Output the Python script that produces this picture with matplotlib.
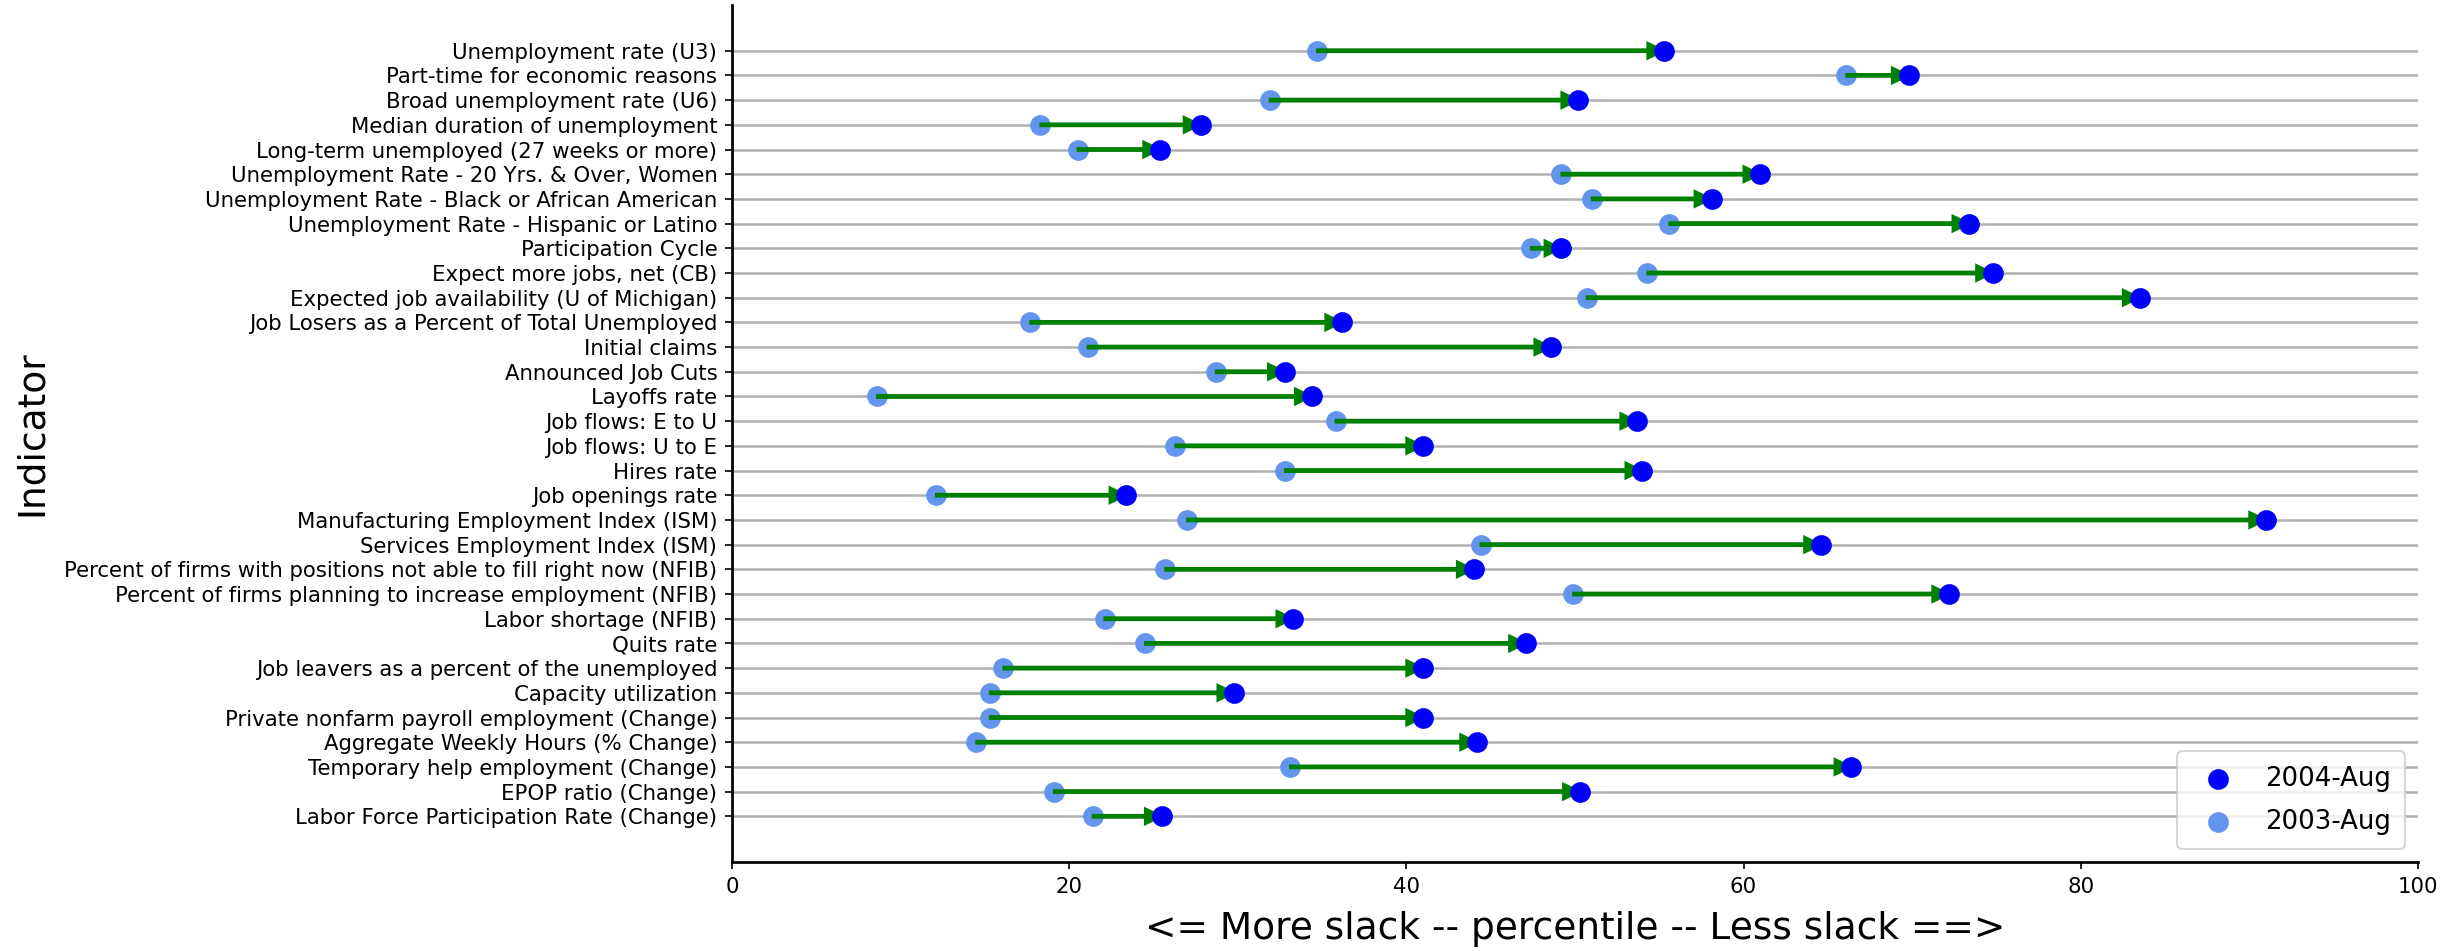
import matplotlib
matplotlib.use("Agg")
import matplotlib.pyplot as plt

indicators = [
    "Unemployment rate (U3)",
    "Part-time for economic reasons",
    "Broad unemployment rate (U6)",
    "Median duration of unemployment",
    "Long-term unemployed (27 weeks or more)",
    "Unemployment Rate - 20 Yrs. & Over, Women",
    "Unemployment Rate - Black or African American",
    "Unemployment Rate - Hispanic or Latino",
    "Participation Cycle",
    "Expect more jobs, net (CB)",
    "Expected job availability (U of Michigan)",
    "Job Losers as a Percent of Total Unemployed",
    "Initial claims",
    "Announced Job Cuts",
    "Layoffs rate",
    "Job flows: E to U",
    "Job flows: U to E",
    "Hires rate",
    "Job openings rate",
    "Manufacturing Employment Index (ISM)",
    "Services Employment Index (ISM)",
    "Percent of firms with positions not able to fill right now (NFIB)",
    "Percent of firms planning to increase employment (NFIB)",
    "Labor shortage (NFIB)",
    "Quits rate",
    "Job leavers as a percent of the unemployed",
    "Capacity utilization",
    "Private nonfarm payroll employment (Change)",
    "Aggregate Weekly Hours (% Change)",
    "Temporary help employment (Change)",
    "EPOP ratio (Change)",
    "Labor Force Participation Rate (Change)",
]

# percentile, 2003-Aug
aug_2003 = [34.7, 66.1, 31.9, 18.3, 20.5, 49.2, 51.0, 55.6, 47.4, 54.3, 50.7,
            17.7, 21.1, 28.7, 8.6, 35.8, 26.3, 32.8, 12.1, 27.0, 44.4,
            25.7, 49.9, 22.1, 24.5, 16.1, 15.3, 15.3, 14.5, 33.1, 19.1, 21.4]

# percentile, 2004-Aug
aug_2004 = [55.3, 69.8, 50.2, 27.8, 25.4, 61.0, 58.1, 73.4, 49.2, 74.8, 83.5,
            36.2, 48.6, 32.8, 34.4, 53.7, 41.0, 54.0, 23.4, 91.0, 64.6,
            44.0, 72.2, 33.3, 47.1, 41.0, 29.8, 41.0, 44.2, 66.4, 50.3, 25.5]

labels = ["2004-Aug", "2003-Aug"]

fig = plt.figure(figsize=(2462 / 150, 951 / 150), dpi=150)
ax = fig.add_axes([0.2973, 0.0936, 0.9821 - 0.2973, 0.9947 - 0.0936])

pos = list(range(len(indicators)))

ax.scatter(aug_2003, pos, s=80, color="cornflowerblue", zorder=3, label=labels[1])
for y, a, b in zip(pos, aug_2003, aug_2004):
    ax.arrow(a, y, b - a, 0, width=0.11, head_width=0.65, head_length=1.0,
             length_includes_head=True, color="green", zorder=4)
ax.scatter(aug_2004, pos, s=80, color="blue", zorder=5, label=labels[0])

ax.set_yticks(pos)
ax.set_yticklabels(indicators, fontsize=10.2)
ax.set_ylim(len(indicators) - 1 + 1.85, -1.85)
ax.set_xlim(0, 100)
ax.tick_params(axis="x", labelsize=10.2)

ax.grid(axis="y", color="#b0b0b0", linewidth=1.2, zorder=0)
ax.set_axisbelow(True)
ax.spines["top"].set_visible(False)
ax.spines["right"].set_visible(False)
ax.spines["left"].set_linewidth(1.3)
ax.spines["bottom"].set_linewidth(1.3)

ax.set_xlabel("<= More slack -- percentile -- Less slack ==>", fontsize=18, labelpad=7)
ax.set_ylabel("Indicator", fontsize=18)
ax.yaxis.set_label_coords(-0.4043, 0.5)

handles, labs = ax.get_legend_handles_labels()
ax.legend(handles[::-1], labs[::-1], loc="lower right", fontsize=12.5,
          labelspacing=0.65, borderpad=0.55)

fig.savefig("out.png", dpi=150)
